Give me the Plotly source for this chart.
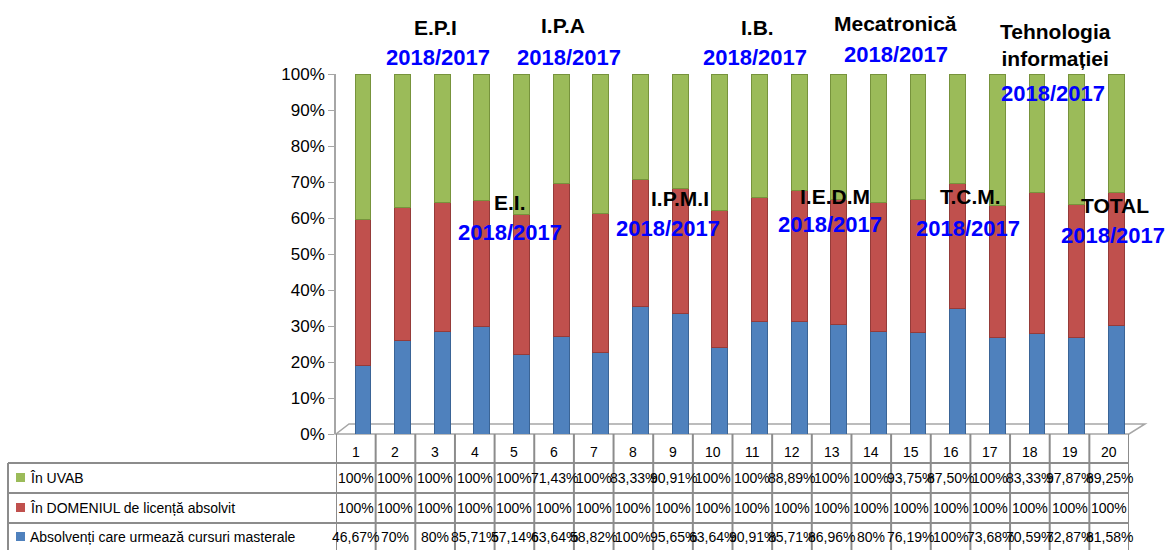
import plotly.graph_objects as go

# ---------------- data ----------------
categories = list(range(1, 21))
series_names = [
    "Absolvenți care urmează cursuri masterale",
    "În DOMENIUL de licență absolvit",
    "În UVAB",
]
absolventi = [46.67, 70, 80, 85.71, 57.14, 63.64, 58.82, 100, 95.65, 63.64,
              90.91, 85.71, 86.96, 80, 76.19, 100, 73.68, 70.59, 72.87, 81.58]
domeniu = [100] * 20
uvab = [100, 100, 100, 100, 100, 71.43, 100, 83.33, 90.91, 100,
        100, 88.89, 100, 100, 93.75, 87.50, 100, 83.33, 97.87, 89.25]
y_ticks = [0, 10, 20, 30, 40, 50, 60, 70, 80, 90, 100]

programs = ["E.P.I", "I.P.A", "I.B.", "Mecatronică", "Tehnologia<br>informației",
            "E.I.", "I.P.M.I", "I.E.D.M", "T.C.M.", "TOTAL"]
year_label = "2018/2017"

colors = ["#4F81BD", "#C0504D", "#9BBB59"]
line_colors = ["#3A6496", "#953B39", "#77933C"]

FONT = "Liberation Sans"

# plot area geometry (pixels)
L, R, T, B = 336, 1129, 74, 434
W, H = 1175, 550


def px(x):
    return (x - L) / (R - L)


def py(y):
    return (B - y) / (B - T)


def fmt(v):
    if float(v).is_integer():
        return f"{int(v)}%"
    return f"{v:.2f}".replace(".", ",") + "%"


fig = go.Figure()
for name, vals, c, lc in zip(series_names, [absolventi, domeniu, uvab], colors, line_colors):
    fig.add_trace(go.Bar(
        x=categories, y=vals, name=name,
        marker=dict(color=c, line=dict(color=lc, width=1)),
        width=0.4, offset=-0.02,
    ))

shapes = []
annotations = []
grid = "#8C8C8C"

# 3D-ish floor
shapes.append(dict(type="path", xref="paper", yref="paper",
                   path=f"M {px(L)},{py(B)} L {px(R)},{py(B)} L {px(R+16)},{py(B-10)} L {px(L+13)},{py(B-10)} Z",
                   line=dict(color="#A6A6A6", width=1.5), fillcolor="rgba(0,0,0,0)", layer="below"))

# data table geometry
row_lines = [463, 493, 523]
for k in range(21):
    shapes.append(dict(type="line", xref="x", yref="paper",
                       x0=k + 0.5, x1=k + 0.5, y0=py(B), y1=py(551),
                       line=dict(color=grid, width=2)))
for yl in row_lines:
    shapes.append(dict(type="line", xref="paper", yref="paper", x0=px(8), x1=1,
                       y0=py(yl), y1=py(yl), line=dict(color=grid, width=2)))
shapes.append(dict(type="line", xref="paper", yref="paper", x0=px(8), x1=px(8),
                   y0=py(row_lines[0]), y1=py(551), line=dict(color=grid, width=2)))

# category number row
for c in categories:
    annotations.append(dict(x=c, y=py(452), xref="x", yref="paper", text=str(c),
                            showarrow=False, font=dict(family=FONT, size=14, color="black"),
                            xanchor="center", yanchor="middle"))

# table rows: UVAB, DOMENIU, Absolventi (top to bottom)
rows = [(uvab, series_names[2], colors[2]),
        (domeniu, series_names[1], colors[1]),
        (absolventi, series_names[0], colors[0])]
row_centers = [478, 508, 537]
for (vals, name, col), yc in zip(rows, row_centers):
    shapes.append(dict(type="rect", xref="paper", yref="paper",
                       x0=px(16), x1=px(25), y0=py(yc - 5), y1=py(yc + 4),
                       fillcolor=col, line=dict(width=0)))
    annotations.append(dict(x=px(28), y=py(yc), xref="paper", yref="paper", text=name,
                            showarrow=False, font=dict(family=FONT, size=14, color="black"),
                            xanchor="left", yanchor="middle"))
    for c, v in zip(categories, vals):
        annotations.append(dict(x=c, y=py(yc), xref="x", yref="paper", text=fmt(v),
                                showarrow=False, font=dict(family=FONT, size=14, color="black"),
                                xanchor="center", yanchor="middle"))

# program labels (black) and year labels (blue)
title_pos = [(435, 27), (563, 25), (757, 27), (895, 23), (1055, 45),
             (510, 203), (680, 198), (835, 196), (970, 196), (1115, 205)]
year_pos = [(438, 58), (569, 58), (755, 58), (896, 55), (1053, 93),
            (510, 232), (668, 228), (830, 225), (968, 228), (1113, 236)]
for t, (tx, ty), (yx, yy) in zip(programs, title_pos, year_pos):
    annotations.append(dict(x=px(tx), y=py(ty), xref="paper", yref="paper", text=f"<b>{t}</b>",
                            showarrow=False, font=dict(family=FONT, size=21, color="black"),
                            xanchor="center", yanchor="middle"))
    annotations.append(dict(x=px(yx), y=py(yy), xref="paper", yref="paper", text=f"<b>{year_label}</b>",
                            showarrow=False, font=dict(family=FONT, size=22, color="#0000FF"),
                            xanchor="center", yanchor="middle"))

fig.update_layout(
    width=W, height=H,
    margin=dict(l=L, r=W - R, t=T, b=H - B, pad=0),
    barmode="stack", barnorm="percent",
    showlegend=False,
    plot_bgcolor="white", paper_bgcolor="white",
    shapes=shapes, annotations=annotations,
    xaxis=dict(range=[0.5, 20.5], showticklabels=False, showgrid=False, zeroline=False,
               showline=False, ticks=""),
    yaxis=dict(range=[0, 100], tickvals=y_ticks, ticktext=[f"{v}%" for v in y_ticks],
               showgrid=False, zeroline=False, showline=True, linecolor="#A6A6A6", linewidth=1.5,
               ticks="outside", ticklen=6, tickcolor="#A6A6A6",
               tickfont=dict(family=FONT, size=17, color="black")),
)

fig.write_html("out.html", config={"displayModeBar": False},
               post_script="document.body.style.margin='0px';")
